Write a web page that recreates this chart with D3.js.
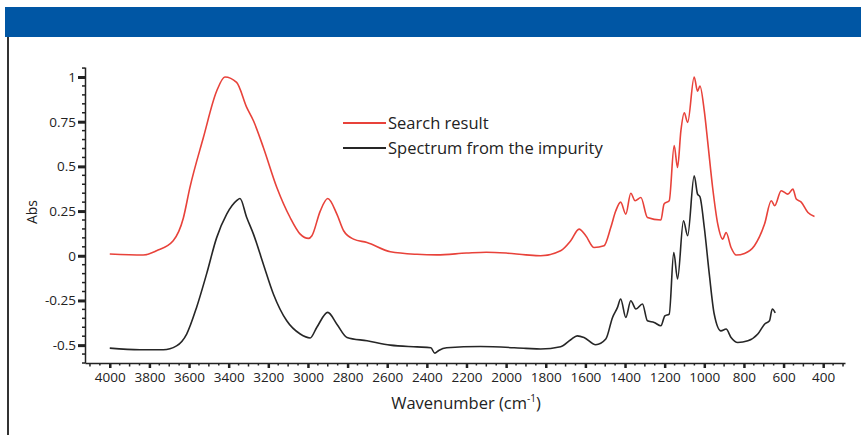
<!DOCTYPE html>
<html>
<head>
<meta charset="utf-8">
<script src="https://cdn.jsdelivr.net/npm/d3@7"></script>
<style>
    body { margin: 0; background: #fff; }
    text { font-family: "Open Sans", "Noto Sans", sans-serif; fill: #222; }
</style>
</head>
<body>
<div id="chart"></div>
<script>
// Search result spectrum (red)
var searchWn = [4000, 3832, 3764, 3680, 3629, 3596, 3528, 3461, 3419, 3360, 3309, 3275, 3225, 3157, 3090, 3039, 2997, 2980, 2938, 2900,
    2854, 2820, 2770, 2702, 2584, 2450, 2350, 2200, 2100, 2000, 1900, 1826, 1725, 1674, 1632, 1598, 1556, 1506, 1472, 1447,
    1422, 1396, 1371, 1349, 1320, 1287, 1219, 1203, 1177, 1152, 1135, 1118, 1101, 1084, 1051, 1034, 1022, 1000, 983, 958,
    932, 907, 890, 865, 839, 797, 747, 696, 662, 645, 612, 578, 553, 536, 511, 477, 444];
var searchAbs = [0.01, 0.004, 0.028, 0.084, 0.21, 0.38, 0.66, 0.92, 1.0, 0.97, 0.83, 0.755, 0.606, 0.382, 0.214, 0.121, 0.097, 0.112, 0.25, 0.32,
    0.233, 0.14, 0.093, 0.074, 0.022, 0.008, 0.005, 0.015, 0.02, 0.015, 0.005, 0.0, 0.028, 0.084, 0.149, 0.112, 0.046, 0.056, 0.158, 0.25,
    0.30, 0.233, 0.35, 0.308, 0.326, 0.214, 0.20, 0.29, 0.308, 0.616, 0.494, 0.70, 0.80, 0.746, 1.0, 0.92, 0.95, 0.81, 0.64, 0.382,
    0.177, 0.093, 0.13, 0.046, 0.004, 0.013, 0.056, 0.177, 0.308, 0.28, 0.364, 0.345, 0.373, 0.317, 0.30, 0.242, 0.22];

// Spectrum from the impurity (black)
var impurityWn = [4000, 3848, 3730, 3663, 3612, 3562, 3511, 3461, 3410, 3360, 3343, 3309, 3275, 3225, 3174, 3107, 3039, 2989, 2955, 2900,
    2854, 2803, 2702, 2584, 2450, 2380, 2360, 2340, 2300, 2130, 1900, 1826, 1725, 1674, 1641, 1607, 1548, 1497, 1463, 1438,
    1422, 1396, 1371, 1345, 1312, 1287, 1253, 1219, 1199, 1177, 1154, 1135, 1105, 1084, 1051, 1034, 1022, 1000, 975, 950,
    916, 890, 865, 831, 780, 730, 696, 671, 657, 642];
var impurityAbs = [-0.517, -0.526, -0.526, -0.504, -0.438, -0.289, -0.10, 0.10, 0.233, 0.308, 0.32, 0.214, 0.121, -0.047, -0.215, -0.364, -0.438, -0.46, -0.40, -0.317,
    -0.383, -0.457, -0.476, -0.50, -0.51, -0.515, -0.545, -0.53, -0.515, -0.508, -0.518, -0.522, -0.509, -0.47, -0.448, -0.457, -0.498, -0.466, -0.345, -0.289,
    -0.242, -0.345, -0.252, -0.298, -0.27, -0.364, -0.373, -0.392, -0.336, -0.326, 0.018, -0.13, 0.196, 0.112, 0.448, 0.345, 0.33, 0.158, -0.10, -0.326,
    -0.42, -0.41, -0.457, -0.485, -0.476, -0.438, -0.383, -0.364, -0.298, -0.32];

var xTicks = [4000, 3800, 3600, 3400, 3200, 3000, 2800, 2600, 2400, 2200, 2000, 1800, 1600, 1400, 1200, 1000, 800, 600, 400];
var yTicks = [-0.5, -0.25, 0, 0.25, 0.5, 0.75, 1];
var legendNames = ["Search result", "Spectrum from the impurity"];

var width = 861, height = 435;

//Prepare playground
var svg = d3.select("#chart").append("svg")
    .attr("width", width)
    .attr("height", height);

//Header band and frame
svg.append("rect").attr("x", 5).attr("y", 7).attr("width", width - 5).attr("height", 30).attr("fill", "#0056a4");
svg.append("rect").attr("x", 7).attr("y", 37).attr("width", 2).attr("height", height - 37).attr("fill", "#333");

//Set plot box
var margin = {left: 85, right: 16, top: 67, bottom: 72};

//Prepare scales
var x = d3.scaleLinear().domain([4125, 290]).range([margin.left, width - margin.right]);
var y = d3.scaleLinear().domain([-0.6, 1.056]).range([height - margin.bottom, margin.top]);

var g = svg.append("g");

//Minor ticks
var xMinor = d3.range(4100, 290, -50).filter(function(d){ return d % 200 != 0; });
g.selectAll(".xminor").data(xMinor).enter().append("line")
    .attr("x1", (d) => x(d)).attr("x2", (d) => x(d))
    .attr("y1", y.range()[0]).attr("y2", (d) => y.range()[0] + (d % 100 == 0 ? 3.5 : 2.5))
    .attr("stroke", "#222").attr("stroke-width", 1.5);

var yMinor = d3.range(-0.6, 1.06, 0.05).map((d) => Math.round(d * 100) / 100)
    .filter((d) => yTicks.indexOf(d) < 0);
g.selectAll(".yminor").data(yMinor).enter().append("line")
    .attr("x1", x.range()[0] - 3).attr("x2", x.range()[0])
    .attr("y1", (d) => y(d)).attr("y2", (d) => y(d))
    .attr("stroke", "#222").attr("stroke-width", 1.5);

// Add the X Axis
var xAxis = g.append("g")
    .attr("transform", "translate(0," + y.range()[0] + ")")
    .call(d3.axisBottom(x).tickValues(xTicks).tickSize(5).tickSizeOuter(0).tickPadding(4)
        .tickFormat((d) => String(d)));
xAxis.select(".domain").attr("stroke", "#222").attr("stroke-width", 1.5);
xAxis.selectAll(".tick line").attr("stroke", "#222").attr("stroke-width", 2.5);
xAxis.selectAll("text").attr("font-size", 13.5).attr("fill", "#222")
    .attr("font-family", "'Open Sans', 'Noto Sans', sans-serif");

// Add the Y Axis
var yAxis = g.append("g")
    .attr("transform", "translate(" + x.range()[0] + ",0)")
    .call(d3.axisLeft(y).tickValues(yTicks).tickSize(7).tickSizeOuter(0).tickPadding(2)
        .tickFormat((d) => String(d)));
yAxis.select(".domain").attr("stroke", "#222").attr("stroke-width", 1.5);
yAxis.selectAll(".tick line").attr("stroke", "#222").attr("stroke-width", 3);
yAxis.selectAll("text").attr("font-size", 13.5).attr("fill", "#222")
    .attr("font-family", "'Open Sans', 'Noto Sans', sans-serif");

//Axis titles
var xt = svg.append("text")
    .attr("x", 466).attr("y", 409)
    .attr("text-anchor", "middle")
    .attr("font-size", 16.5);
xt.append("tspan").text("Wavenumber (cm");
xt.append("tspan").attr("font-size", 10).attr("dy", -7).text("-1");
xt.append("tspan").attr("dy", 7).text(")");

svg.append("text")
    .attr("transform", "translate(37,212) rotate(-90)")
    .attr("text-anchor", "middle")
    .attr("font-size", 14)
    .text("Abs");

//Spectra lines
var series = [
    {wn: searchWn, abs: searchAbs, color: "#e8423a"},
    {wn: impurityWn, abs: impurityAbs, color: "#262626"}
];

var line = d3.line()
    .x((d) => x(d[0]))
    .y((d) => y(d[1]))
    .curve(d3.curveMonotoneX);

series.forEach((s, ind) => {
    g.append("path")
        .datum(s.wn.map((w, i) => [w, s.abs[i]]))
        .attr("fill", "none")
        .attr("stroke", s.color)
        .attr("stroke-width", 1.6)
        .attr("stroke-linejoin", "round")
        .attr("d", line);

    //Legend
    g.append("line")
        .attr("x1", 343).attr("x2", 386)
        .attr("y1", 123 + ind * 25).attr("y2", 123 + ind * 25)
        .attr("stroke", s.color).attr("stroke-width", 2);
    g.append("text")
        .attr("x", 388).attr("y", 123 + ind * 25)
        .attr("dy", "0.35em")
        .attr("font-size", 16.5)
        .text(legendNames[ind]);
});
</script>
</body>
</html>
